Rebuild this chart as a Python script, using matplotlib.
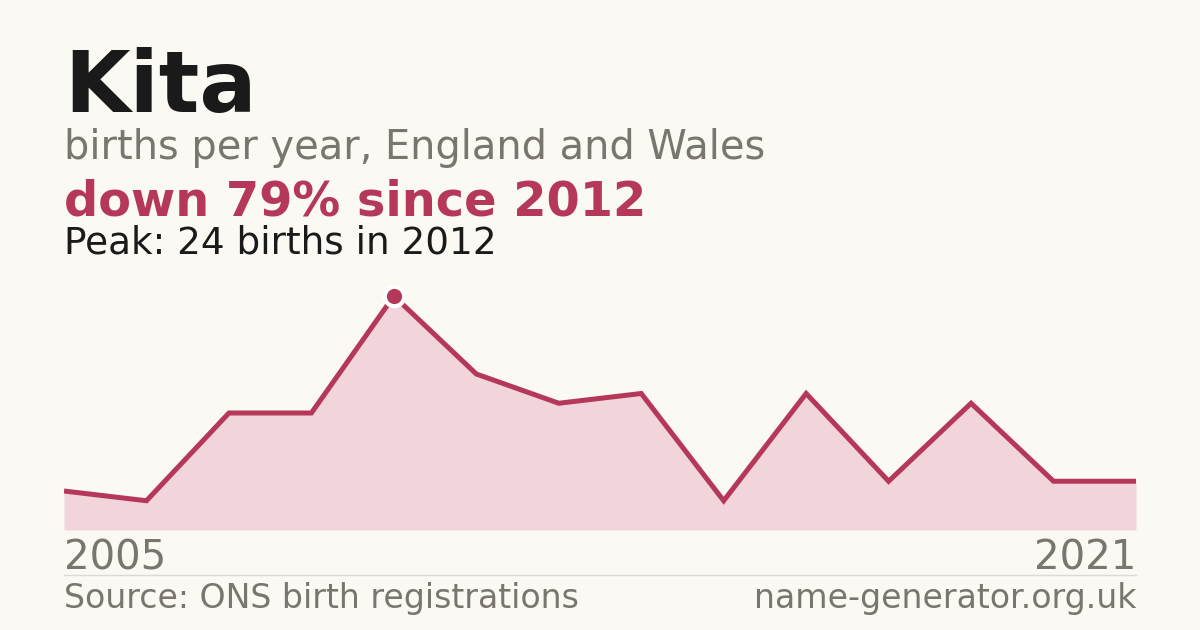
import matplotlib
matplotlib.use("Agg")
import matplotlib.pyplot as plt

# Data (years with no published count are absent)
years = [2005, 2009, 2010, 2011, 2012, 2013, 2014, 2015, 2016, 2017, 2018, 2019, 2020, 2021]
births = [4, 3, 12, 12, 24, 16, 13, 14, 3, 14, 5, 13, 5, 5]

title = "Kita"
subtitle = "births per year, England and Wales"
headline = "down 79% since 2012"
peak_note = "Peak: 24 births in 2012"
source = "Source: ONS birth registrations"
site = "name-generator.org.uk"

BG = "#faf9f4"
ACCENT = "#b5385a"
FILL = "#f2d5db"
GRAY = "#7a756d"
DARK = "#1a1a1a"

W, H = 1200, 630
fig = plt.figure(figsize=(12, 6.3), dpi=100, facecolor=BG)


def px(x, y):
    # pixel coords (from top-left) -> figure fraction
    return x / W, 1 - y / H


left, right, top, bottom = 64, 1136, 296, 530
ax = fig.add_axes([left / W, 1 - bottom / H, (right - left) / W, (bottom - top) / H])
ax.set_facecolor("none")
xs = list(range(len(years)))
ax.fill_between(xs, births, 0, color=FILL, linewidth=0)
ax.plot(xs, births, color=ACCENT, linewidth=3.6, solid_joinstyle="miter",
        solid_capstyle="butt")
peak = births.index(max(births))
ax.plot(xs[peak], births[peak], "o", color=ACCENT, markersize=14,
        markeredgecolor="white", markeredgewidth=3, clip_on=False, zorder=5)
ax.set_xlim(0, len(years) - 1)
ax.set_ylim(0, max(births))
ax.axis("off")

fig.text(*px(64, 112), title, fontsize=61, fontweight="bold", color=DARK, va="baseline")
fig.text(*px(64, 159), subtitle, fontsize=28.7, color=GRAY, va="baseline")
fig.text(*px(64, 215), headline, fontsize=34.5, fontweight="bold", color=ACCENT, va="baseline")
fig.text(*px(64, 253), peak_note, fontsize=26.9, color=DARK, va="baseline")

fig.text(*px(64, 570), str(years[0]), fontsize=29, color=GRAY, va="baseline")
fig.text(*px(1136, 570), str(years[-1]), fontsize=29, color=GRAY, va="baseline", ha="right")
fig.add_artist(plt.Line2D([left / W, right / W], [1 - 574.5 / H] * 2,
                          color="#dcdad3", linewidth=1))
fig.text(*px(64, 608), source, fontsize=23.9, color=GRAY, va="baseline")
fig.text(*px(1136, 608), site, fontsize=23.9, color=GRAY, va="baseline", ha="right")

fig.savefig("out.png", dpi=100, facecolor=BG)
